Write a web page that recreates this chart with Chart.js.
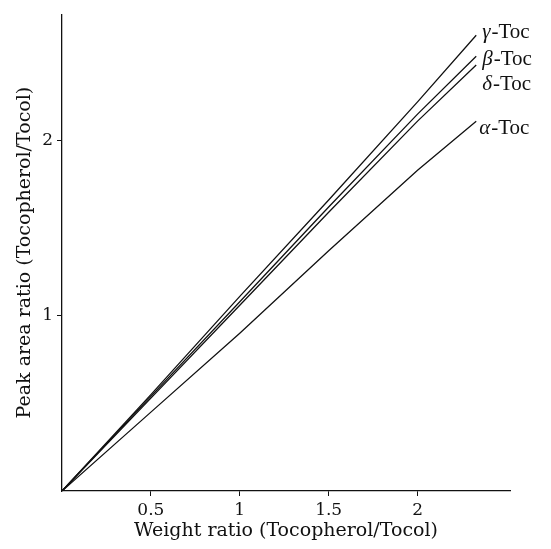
<!DOCTYPE html>
<html>
<head>
<meta charset="utf-8">
<script src="https://cdn.jsdelivr.net/npm/chart.js@4/dist/chart.umd.min.js"></script>
<style>
  html, body { margin: 0; padding: 0; background: #fff; }
  #wrap { width: 551px; height: 549px; }
</style>
</head>
<body>
<div id="wrap"><canvas id="myChart" width="551" height="549"></canvas></div>
<script>
// weight ratio (x) shared by all four calibration lines
const weightRatio = [0, 0.5, 1, 1.5, 2, 2.33];

// peak area ratio
const gammaToc = [0, 0.55, 1.11, 1.66, 2.22, 2.60];
const betaToc  = [0, 0.54, 1.08, 1.62, 2.15, 2.48];
const deltaToc = [0, 0.53, 1.06, 1.59, 2.11, 2.43];
const alphaToc = [0, 0.45, 0.90, 1.37, 1.83, 2.11];

const seriesNames = ['γ', 'β', 'δ', 'α'];
const xTicks = [0.5, 1, 1.5, 2];
const yTicks = [1, 2];

const toPoints = (ys) => ys.map((y, i) => ({ x: weightRatio[i], y: y }));

// where each end label sits relative to the line's last point
const labelOffsets = [[6, -3], [6, 3], [6, 19], [3, 7]];

const endLabels = {
  id: 'endLabels',
  afterDatasetsDraw(chart) {
    const ctx = chart.ctx;
    ctx.save();
    ctx.fillStyle = '#111';
    ctx.textBaseline = 'middle';
    chart.data.datasets.forEach((ds, i) => {
      const pts = chart.getDatasetMeta(i).data;
      const last = pts[pts.length - 1];
      let x = last.x + labelOffsets[i][0];
      const y = last.y + labelOffsets[i][1];
      ctx.font = 'italic 21px "Liberation Serif"';
      ctx.fillText(seriesNames[i], x, y);
      x += ctx.measureText(seriesNames[i]).width + 1;
      ctx.font = '21px "Liberation Serif"';
      ctx.fillText('-Toc', x, y);
    });
    ctx.restore();
  }
};

const lineStyle = { borderColor: '#111', borderWidth: 1.3, pointRadius: 0, tension: 0, fill: false };

const ctx = document.getElementById('myChart').getContext('2d');
const myChart = new Chart(ctx, {
  type: 'line',
  data: {
    datasets: [
      Object.assign({ label: 'γ-Toc', data: toPoints(gammaToc) }, lineStyle),
      Object.assign({ label: 'β-Toc', data: toPoints(betaToc) }, lineStyle),
      Object.assign({ label: 'δ-Toc', data: toPoints(deltaToc) }, lineStyle),
      Object.assign({ label: 'α-Toc', data: toPoints(alphaToc) }, lineStyle)
    ]
  },
  plugins: [endLabels],
  options: {
    responsive: false,
    animation: false,
    layout: { padding: { top: 9, right: 41, left: 0, bottom: 0 } },
    plugins: {
      legend: { display: false },
      tooltip: { enabled: false }
    },
    scales: {
      x: {
        type: 'linear',
        min: 0,
        max: 2.52,
        afterBuildTicks: (scale) => { scale.ticks = xTicks.map(v => ({ value: v })); },
        afterFit: (scale) => { scale.height = 58; },
        border: { color: '#111', width: 1.3 },
        grid: { drawOnChartArea: false, color: '#111', tickLength: 5 },
        ticks: {
          color: '#111',
          padding: 4,
          maxRotation: 0,
          font: { family: 'DejaVu Serif', size: 17 },
          callback: (v) => String(v)
        },
        title: {
          display: true,
          text: 'Weight ratio (Tocopherol/Tocol)',
          color: '#111',
          padding: { top: 0, bottom: 7 },
          font: { family: 'DejaVu Serif', size: 19 }
        }
      },
      y: {
        min: 0,
        max: 2.72,
        afterBuildTicks: (scale) => { scale.ticks = yTicks.map(v => ({ value: v })); },
        afterFit: (scale) => { scale.width = 62; },
        border: { color: '#111', width: 1.3 },
        grid: { drawOnChartArea: false, color: '#111', tickLength: 5 },
        ticks: {
          color: '#111',
          padding: 4,
          font: { family: 'DejaVu Serif', size: 17 },
          callback: (v) => String(v)
        },
        title: {
          display: true,
          text: 'Peak area ratio (Tocopherol/Tocol)',
          color: '#111',
          padding: { top: 14, bottom: 0 },
          font: { family: 'DejaVu Serif', size: 19 }
        }
      }
    }
  }
});
</script>
</body>
</html>
